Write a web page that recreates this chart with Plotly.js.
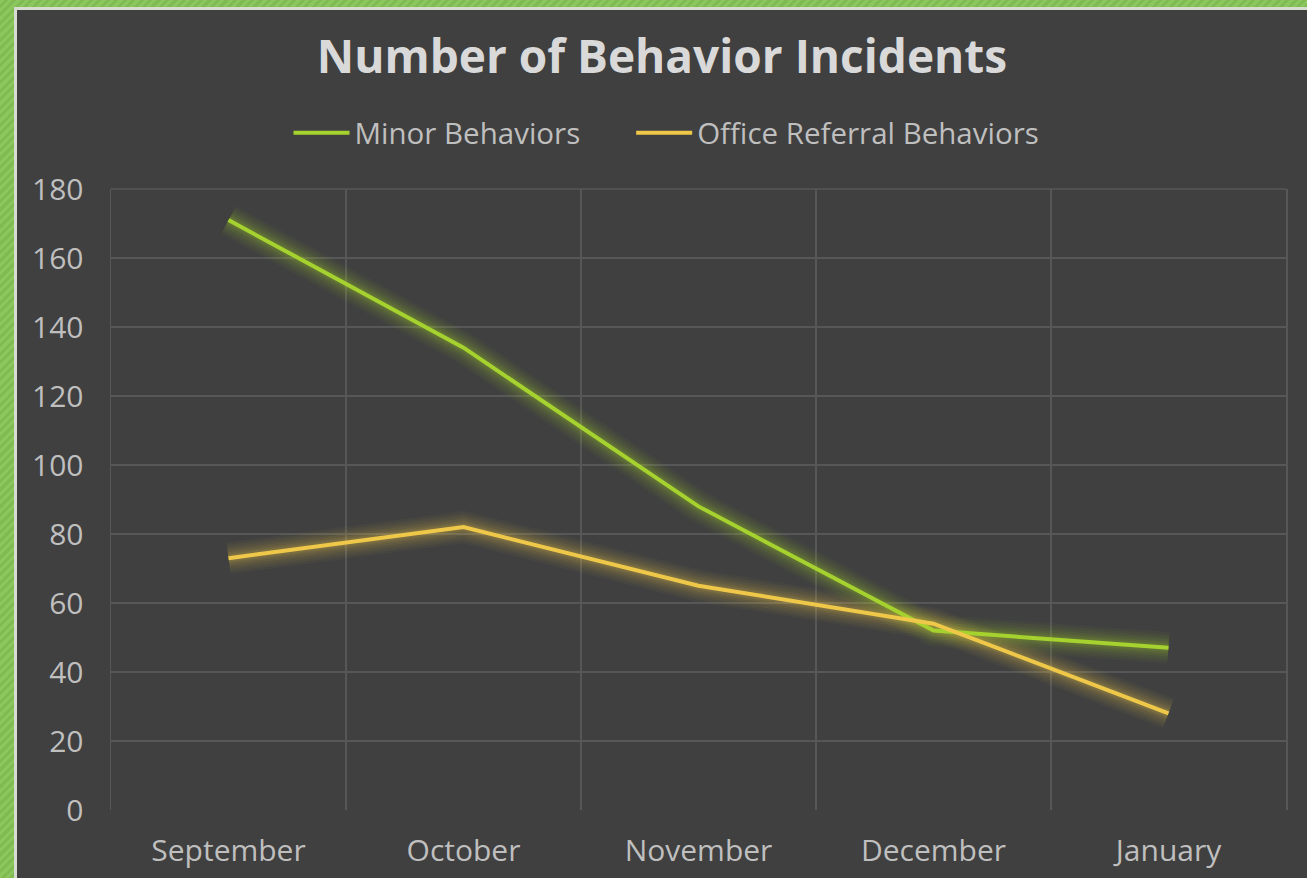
<!DOCTYPE html>
<html>
<head>
<meta charset="utf-8">
<script src="https://cdn.plot.ly/plotly-3.0.1.min.js"></script>
<style>
  html, body { margin:0; padding:0; width:1307px; height:878px; overflow:hidden; }
  body {
    background: repeating-linear-gradient(135deg, #8cc75e 0px, #8cc75e 3px, #7fbb52 3px, #7fbb52 6px);
  }
  #frame {
    position:absolute; left:14px; top:7px; width:1300px; height:880px;
    border-left:3px solid #d6dccf; border-top:3px solid #d6dccf;
    background:#404040;
  }
  #chart { position:absolute; left:0; top:0; width:1290px; height:868px; }
</style>
</head>
<body>
<div id="frame"><div id="chart"></div></div>
<script>
const months = ["September", "October", "November", "December", "January"];
const minorBehaviors = [171, 134, 88, 52, 47];
const officeReferral = [73, 82, 65, 54, 28];
const seriesNames = ["Minor Behaviors", "Office Referral Behaviors"];
const yTicks = [0, 20, 40, 60, 80, 100, 120, 140, 160, 180];

const green = "#a5d22e";
const yellow = "#efc84a";
const grid = "#575757";

function glow(y, rgb) {
  return [
    {w:32, a:0.04}, {w:27, a:0.05}, {w:22, a:0.06}, {w:17, a:0.07}, {w:12, a:0.09}, {w:8, a:0.11}
  ].map(g => ({
    x: months, y: y, type: "scatter", mode: "lines",
    line: {color: `rgba(${rgb},${g.a})`, width: g.w},
    showlegend: false, hoverinfo: "skip"
  }));
}

const pad = "\u00a0".repeat(6);

const data = [
  ...glow(minorBehaviors, "165,210,46"),
  ...glow(officeReferral, "239,200,74"),
  { x: months, y: minorBehaviors, name: seriesNames[0] + pad, type: "scatter", mode: "lines",
    line: {color: green, width: 4} },
  { x: months, y: officeReferral, name: seriesNames[1], type: "scatter", mode: "lines",
    line: {color: yellow, width: 4} }
];

const layout = {
  width: 1290, height: 868,
  paper_bgcolor: "#404040", plot_bgcolor: "#404040",
  margin: {l: 94, r: 21, t: 179, b: 68},
  font: {family: "Open Sans, sans-serif", color: "#bfbfbf", size: 30},
  title: {text: "<b>Number of Behavior Incidents</b>", x: 0.5, xanchor: "center",
          y: 1 - 47/868, yanchor: "middle", yref: "container",
          font: {family: "Open Sans, sans-serif", size: 46, color: "#d9d9d9"}},
  legend: {orientation: "h", x: 0.5 - 32/1175, xanchor: "center", y: 1 + 56/621, yanchor: "middle",
           font: {size: 29.5, color: "#bfbfbf"}, itemwidth: 56,
           bgcolor: "rgba(0,0,0,0)"},
  xaxis: {type: "category", range: [-0.5, 4.5], tickson: "boundaries",
          showgrid: true, gridcolor: grid, gridwidth: 1.5,
          ticks: "", ticklabelstandoff: 20,
          showline: false, zeroline: false, fixedrange: true},
  yaxis: {range: [0, 180], tickvals: yTicks, showgrid: true, gridcolor: grid, gridwidth: 1.5,
          ticks: "outside", ticklen: 20, tickcolor: "rgba(0,0,0,0)",
          showline: true, mirror: true, linecolor: grid, linewidth: 1.5,
          zeroline: false, fixedrange: true},
  shapes: [
    {type: "line", xref: "paper", yref: "paper", x0: 0, x1: 1, y0: 1, y1: 1,
     line: {color: grid, width: 1.5}, layer: "below"}
  ]
};

Plotly.newPlot("chart", data, layout, {displayModeBar: false, staticPlot: true});
</script>
</body>
</html>
